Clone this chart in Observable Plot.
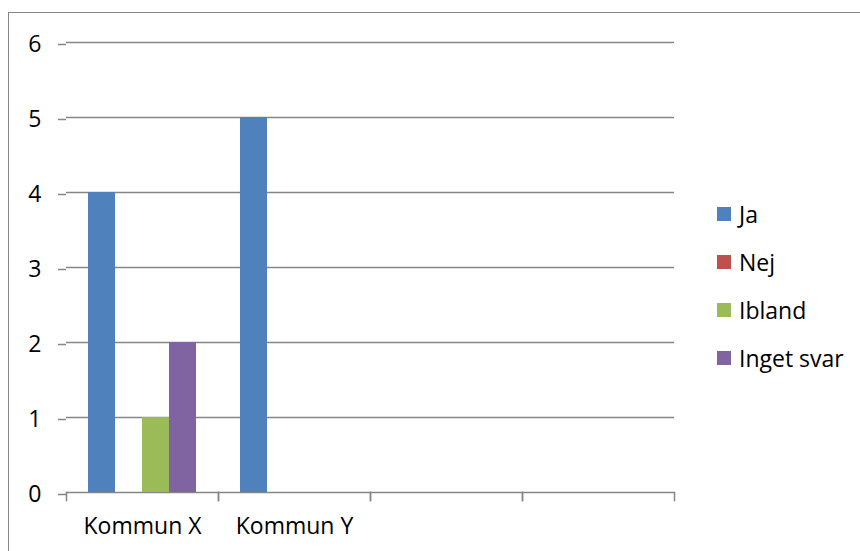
<!DOCTYPE html>
<html>
<head>
<meta charset="utf-8">
<script src="https://cdn.jsdelivr.net/npm/d3@7"></script>
<script src="https://cdn.jsdelivr.net/npm/@observablehq/plot@0.6"></script>
<style>
  html, body { margin: 0; padding: 0; background: #fff; }
  #wrap { position: relative; width: 860px; height: 551px; overflow: hidden; font-family: "Open Sans", sans-serif; }
  #border { position: absolute; left: 8px; top: 12px; width: 1000px; height: 1000px; border-left: 1.5px solid #868686; border-top: 1.5px solid #868686; }
  #chart { position: absolute; left: 0; top: 0; }
  #legend { position: absolute; left: 717px; top: 190px; }
  .item { position: absolute; left: 0; height: 48px; display: flex; align-items: center; white-space: nowrap; font-size: 23px; color: #000; }
  .sw { width: 14px; height: 14px; margin-right: 8px; }
</style>
</head>
<body>
<div id="wrap">
  <div id="border"></div>
  <div id="chart"></div>
  <div id="legend"></div>
</div>
<script>
const categories = ["Kommun X", "Kommun Y", " ", "  "];
const series = ["Ja", "Nej", "Ibland", "Inget svar"];
const ja = [4, 5, null, null];
const nej = [0, 0, null, null];
const ibland = [1, 0, null, null];
const ingetSvar = [2, 0, null, null];
const yTicks = [0, 1, 2, 3, 4, 5, 6];
const colors = ["#4f81bd", "#c0504d", "#9bbb59", "#8064a2"];

const valuesBySeries = [ja, nej, ibland, ingetSvar];
const data = categories.flatMap((c, i) =>
  series.map((s, j) => ({category: c, series: s, value: valuesBySeries[j][i]}))
);

const W = 860, H = 551, mL = 64, mR = 185, mT = 42, mB = 59;
const plotH = H - mT - mB;
const grid = "#868686";

const chart = Plot.plot({
  width: W, height: H,
  marginLeft: mL, marginRight: mR, marginTop: mT, marginBottom: mB,
  style: {fontFamily: "'Open Sans', sans-serif", fontSize: "23px", color: "#000", background: "transparent", overflow: "visible"},
  fx: {domain: categories, padding: 0, label: null},
  x: {domain: series, paddingInner: 0, paddingOuter: 0.75, axis: null},
  y: {domain: [0, 6], label: null},
  color: {domain: series, range: colors},
  marks: [
    Plot.ruleY(yTicks, {stroke: grid, strokeWidth: 1.5}),
    Plot.barY(data, {fx: "category", x: "series", y: "value", fill: "series"}),
    Plot.axisY(yTicks, {tickSize: 8, tickPadding: 17, tickFormat: "d", line: true, stroke: grid, strokeWidth: 1.5, strokeOpacity: 1, fill: "#000", fontSize: 23, dy: 2, label: null}),
    Plot.axisFx({anchor: "bottom", tickSize: 0, tickPadding: 25, fontSize: 23, fill: "#000", label: null}),
    Plot.frame({anchor: "left", stroke: grid, strokeWidth: 1.5, insetTop: plotH, insetBottom: -8}),
    Plot.frame({anchor: "right", stroke: grid, strokeWidth: 1.5, insetTop: plotH, insetBottom: -8})
  ]
});
document.getElementById("chart").appendChild(chart);

const legend = document.getElementById("legend");
series.forEach((s, i) => {
  const item = document.createElement("div");
  item.className = "item";
  item.style.top = (i * 48) + "px";
  const sw = document.createElement("div");
  sw.className = "sw";
  sw.style.background = colors[i];
  const label = document.createElement("span");
  label.textContent = s;
  item.appendChild(sw);
  item.appendChild(label);
  legend.appendChild(item);
});
</script>
</body>
</html>
